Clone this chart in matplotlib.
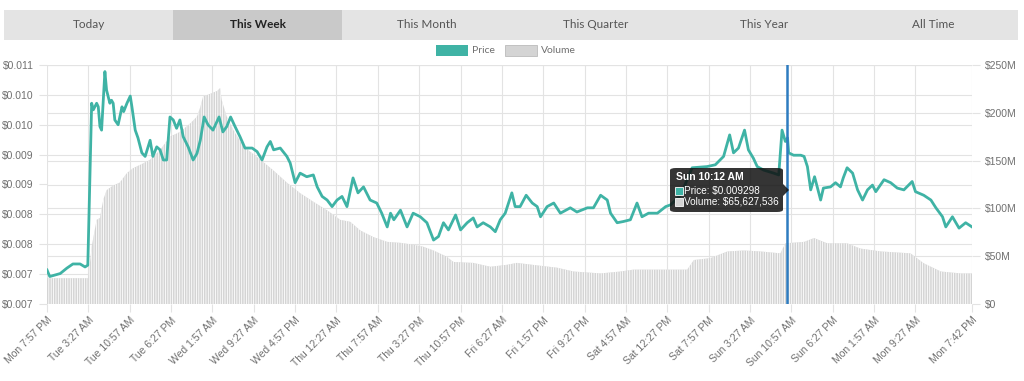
import matplotlib
matplotlib.use("Agg")
import matplotlib.pyplot as plt
from matplotlib.patches import FancyBboxPatch, Rectangle, Polygon
from matplotlib.ticker import FuncFormatter, FixedLocator
import numpy as np

plt.rcParams['font.family'] = ['Liberation Sans', 'DejaVu Sans']
plt.rcParams['hatch.linewidth'] = 0.6

# time in hours since Mon 7:57 PM
price_hours = [0, 0.5, 2.4, 3.6, 4.7, 6.0, 6.9, 7.4, 8.1, 8.4, 9.0, 9.3, 9.6, 9.9, 10.5, 10.8,
               11.4, 11.7, 12.0, 12.3, 12.9, 13.6, 13.9, 14.5, 15.1, 15.4, 16.0, 16.5, 17.2, 17.8,
               18.7, 19.2, 19.9, 20.5, 21.1, 21.7, 22.3, 22.9, 23.5, 24.1, 24.7, 25.6, 26.5, 27.2,
               27.8, 28.5, 29.2, 30.1, 31.2, 31.9, 32.6, 33.3, 34.1, 35.0, 35.9, 37.2, 38.1, 39.0,
               39.9, 40.5, 41.1, 42.3, 43.5, 44.1, 45.0, 45.9, 47.1, 48.3, 49.0, 49.9, 50.8, 51.7,
               52.6, 53.5, 54.4, 55.5, 56.4, 57.4, 58.6, 59.8, 60.7, 61.7, 62.3, 62.9, 64.1, 65.3,
               66.4, 67.7, 68.9, 70.1, 71.0, 71.9, 72.8, 74.1, 75.0, 76.2, 77.3, 78.0, 79.1, 80.4,
               81.3, 82.2, 83.1, 84.3, 84.9, 85.8, 86.9, 88.0, 88.9, 89.5, 90.7, 91.9, 93.1, 94.9,
               96.1, 98.0, 99.1, 100.4, 101.6, 102.2, 103.4, 104.5, 105.8, 107.0, 107.9, 109.1,
               110.7, 112.2, 113.1, 114.9, 117.0, 119.7, 121.2, 122.7, 123.8, 124.5, 125.4, 126.5,
               127.2, 128.1, 128.8, 130.0, 131.8, 132.7, 133.3, 133.9, 134.3, 134.5, 135.4, 136.7,
               137.3, 137.9, 138.5, 139.2, 140.3, 140.8, 142.1, 143.0, 143.9, 144.4, 145.1, 146.1,
               147.0, 147.9, 148.8, 149.7, 150.3, 151.8, 153.0, 154.2, 155.4, 156.9, 157.5, 159.0,
               160.3, 161.2, 162.4, 163.0, 164.2, 165.4, 166.6, 167.75]
price = [0.00757, 0.00746, 0.00751, 0.00760, 0.00767, 0.00767, 0.00762, 0.00765, 0.01036, 0.01025,
         0.01036, 0.01030, 0.00997, 0.00991, 0.01089, 0.01058, 0.01036, 0.01041, 0.01036, 0.01008,
         0.01000, 0.01030, 0.01022, 0.01036, 0.01048, 0.01030, 0.00991, 0.00978, 0.00953, 0.00947,
         0.00974, 0.00947, 0.00963, 0.00958, 0.00941, 0.00941, 0.01013, 0.01008, 0.00994, 0.01008,
         0.00980, 0.00963, 0.00941, 0.00952, 0.00974, 0.01013, 0.01000, 0.00991, 0.01013, 0.00988,
         0.00997, 0.01013, 0.00997, 0.00980, 0.00961, 0.00961, 0.00955, 0.00941, 0.00963, 0.00972,
         0.00958, 0.00961, 0.00947, 0.00936, 0.00903, 0.00919, 0.00913, 0.00916, 0.00896, 0.00880,
         0.00874, 0.00863, 0.00874, 0.00880, 0.00863, 0.00911, 0.00886, 0.00896, 0.00874, 0.00869,
         0.00852, 0.00829, 0.00852, 0.00841, 0.00857, 0.00829, 0.00852, 0.00846, 0.00836, 0.00807,
         0.00813, 0.00836, 0.00824, 0.00849, 0.00824, 0.00836, 0.00844, 0.00829, 0.00836, 0.00829,
         0.00821, 0.00841, 0.00852, 0.00886, 0.00863, 0.00863, 0.00882, 0.00869, 0.00863, 0.00846,
         0.00863, 0.00869, 0.00852, 0.00861, 0.00854, 0.00861, 0.00861, 0.00882, 0.00874, 0.00852,
         0.00836, 0.00838, 0.00841, 0.00869, 0.00846, 0.00852, 0.00852, 0.00863, 0.00866, 0.00882,
         0.00928, 0.00930, 0.00933, 0.00947, 0.00983, 0.00953, 0.00961, 0.00991, 0.00958, 0.00944,
         0.00930, 0.00924, 0.00919, 0.00916, 0.00991, 0.00972, 0.00978, 0.00953, 0.00949, 0.00949,
         0.00947, 0.00930, 0.00891, 0.00913, 0.00874, 0.00894, 0.00896, 0.00903, 0.00896, 0.00911,
         0.00928, 0.00919, 0.00891, 0.00874, 0.00891, 0.00899, 0.00888, 0.00908, 0.00903, 0.00894,
         0.00891, 0.00905, 0.00888, 0.00882, 0.00874, 0.00861, 0.00846, 0.00829, 0.00846, 0.00827,
         0.00836, 0.00829]

vol_hours = [0, 6.9, 7.5, 8.1, 9.0, 9.6, 10.2, 10.8, 12.0, 13.2, 14.5, 15.6, 17.4, 18.7, 20.5,
             22.3, 24.1, 26.0, 27.2, 27.8, 28.3, 30.1, 30.9, 31.4, 31.7, 32.6, 33.8, 35.6, 38.7,
             41.0, 43.5, 45.9, 48.3, 50.8, 53.2, 55.0, 56.8, 59.2, 61.7, 64.1, 66.4, 68.2, 70.1,
             72.5, 73.7, 77.3, 80.4, 83.4, 85.2, 89.5, 92.5, 95.5, 100.4, 104.0, 106.4, 113.1,
             116.1, 117.3, 120.3, 123.4, 126.4, 129.4, 133.0, 133.9, 137.3, 139.1, 141.5, 145.1,
             147.5, 151.2, 156.6, 159.0, 162.1, 165.7, 167.75]
volume_m = [27, 27, 27, 60, 88, 90, 109, 119, 124, 127, 137, 142, 147, 151, 161,
            175, 180, 189, 196, 206, 217, 221, 223, 226, 213, 196, 182, 165, 151,
            140, 127, 116, 107, 98, 88, 86, 77, 70, 65, 64, 62, 60, 56,
            49.5, 44, 43, 39, 41, 43, 40, 38, 34, 32, 34, 36, 36,
            36, 46, 48, 55, 56, 55, 53, 63.5, 65, 69, 63.5, 63.5,
            58, 55, 53, 42.6, 34, 32, 32]

tick_hours = [7.5 * i for i in range(22)] + [167.75]
tick_labels = ["Mon 7:57 PM", "Tue 3:27 AM", "Tue 10:57 AM", "Tue 6:27 PM", "Wed 1:57 AM",
               "Wed 9:27 AM", "Wed 4:57 PM", "Thu 12:27 AM", "Thu 7:57 AM", "Thu 3:27 PM",
               "Thu 10:57 PM", "Fri 6:27 AM", "Fri 1:57 PM", "Fri 9:27 PM", "Sat 4:57 AM",
               "Sat 12:27 PM", "Sat 7:57 PM", "Sun 3:27 AM", "Sun 10:57 AM", "Sun 6:27 PM",
               "Mon 1:57 AM", "Mon 9:27 AM", "Mon 7:42 PM"]
buttons = ["Today", "This Week", "This Month", "This Quarter", "This Year", "All Time"]
hover_hour = 134.25
tooltip_lines = ["Sun 10:12 AM", "Price: $0.009298", "Volume: $65,627,536"]

teal = "#3fb3a5"
gray = "#d4d4d4"
grid_c = "#e3e3e3"
tick_c = "#707070"

fig = plt.figure(figsize=(10.24, 3.81), dpi=100)
W, H = 1024, 381

# button bar
bar_y0, bar_y1 = 1 - 40 / H, 1 - 10 / H
seg_w = (1018 - 4) / 6
for i, name in enumerate(buttons):
    x0 = (4 + i * seg_w) / W
    fc = "#c9c9c9" if name == "This Week" else "#e4e4e4"
    fig.patches.append(Rectangle((x0, bar_y0), seg_w / W, bar_y1 - bar_y0,
                                 transform=fig.transFigure, facecolor=fc, edgecolor="none"))
    fig.text(x0 + seg_w / W / 2, (bar_y0 + bar_y1) / 2, name, ha="center", va="center",
             fontsize=8.5, family=["Lato", "DejaVu Sans"],
             color="#222222" if name == "This Week" else "#555555",
             fontweight="bold" if name == "This Week" else "normal")

# legend
ly = 1 - 56 / H
fig.patches.append(Rectangle((436 / W, ly), 32 / W, 11 / H, transform=fig.transFigure,
                             facecolor=teal, edgecolor="none"))
fig.text(472 / W, ly + 5.5 / H, "Price", fontsize=7.5, va="center", color=tick_c,
         family=["Lato", "DejaVu Sans"])
fig.patches.append(Rectangle((505 / W, ly), 32 / W, 11 / H, transform=fig.transFigure,
                             facecolor=gray, edgecolor="#bbbbbb", linewidth=0.6))
fig.text(541 / W, ly + 5.5 / H, "Volume", fontsize=7.5, va="center", color=tick_c,
         family=["Lato", "DejaVu Sans"])

# axes: volume underneath, price on top
ax = fig.add_axes([47 / W, 1 - 304 / H, (972 - 47) / W, (304 - 65) / H])
ax2 = ax.twinx()

vol = np.array(volume_m) * 1e6
ax.fill_between(vol_hours, 0, vol, facecolor=gray, edgecolor="white", hatch="|||||||",
                linewidth=0, zorder=2)
ax.set_ylim(0, 250e6)
ax.set_xlim(0, 167.75)
ax.yaxis.tick_right()
ax.yaxis.set_major_locator(FixedLocator([0, 50e6, 100e6, 150e6, 200e6, 250e6]))
ax.yaxis.set_major_formatter(FuncFormatter(lambda v, p: "$0" if v == 0 else "$%dM" % (v / 1e6)))

# gridlines for both scales
for v in [0, 50e6, 100e6, 150e6, 200e6, 250e6]:
    ax.axhline(v, color=grid_c, linewidth=0.8, zorder=1)
for k in range(9):
    ax.axhline(250e6 * k / 8, color=grid_c, linewidth=0.8, zorder=1)
for t in tick_hours:
    ax.axvline(t, color=grid_c, linewidth=0.8, zorder=1)

ax.set_xticks(tick_hours)
ax.set_xticklabels(tick_labels, rotation=45, ha="right", rotation_mode="anchor")

ax2.plot(price_hours, price, color=teal, linewidth=2.0, zorder=3, solid_joinstyle="round")
ax2.set_ylim(0.007, 0.011)
ax2.yaxis.tick_left()
ax2.yaxis.set_major_locator(FixedLocator([0.007 + 0.0005 * k for k in range(9)]))
ax2.yaxis.set_major_formatter(FuncFormatter(lambda v, p: "$%.3f" % (np.floor(v * 1000 + 1e-6) / 1000)))

ax2.axvline(hover_hour, color="#2e7cc0", linewidth=1.8, zorder=4)

for a in (ax, ax2):
    for s in a.spines.values():
        s.set_visible(False)
    a.tick_params(colors=grid_c, labelcolor=tick_c, labelsize=7.5, length=6, width=0.8)
ax.tick_params(axis="x", labelsize=7.5, pad=2)

# tooltip
tx0, tx1, ty0, ty1 = 670, 783, 168, 212
fig.patches.append(FancyBboxPatch((tx0 / W, 1 - ty1 / H), (tx1 - tx0) / W, (ty1 - ty0) / H,
                                  boxstyle="round,pad=0,rounding_size=0.006",
                                  transform=fig.transFigure, facecolor="#111111",
                                  edgecolor="none", alpha=0.85, zorder=10))
fig.patches.append(Polygon([(tx1 / W, 1 - 184 / H), (789 / W, 1 - 190 / H), (tx1 / W, 1 - 196 / H)],
                           closed=True, transform=fig.transFigure, facecolor="#111111",
                           edgecolor="none", alpha=0.85, zorder=10))
fig.text(676 / W, 1 - 177 / H, tooltip_lines[0], color="white", fontsize=7.5,
         fontweight="bold", va="center", zorder=11)
fig.patches.append(Rectangle((675 / W, 1 - 195 / H), 8 / W, 8 / H, transform=fig.transFigure,
                             facecolor=teal, edgecolor="white", linewidth=0.6, zorder=11))
fig.text(684 / W, 1 - 191 / H, tooltip_lines[1], color="white", fontsize=7.2, va="center", zorder=11)
fig.patches.append(Rectangle((675 / W, 1 - 206 / H), 8 / W, 8 / H, transform=fig.transFigure,
                             facecolor=gray, edgecolor="white", linewidth=0.6, zorder=11))
fig.text(684 / W, 1 - 202 / H, tooltip_lines[2], color="white", fontsize=7.2, va="center", zorder=11)

fig.savefig("out.png", dpi=100)
